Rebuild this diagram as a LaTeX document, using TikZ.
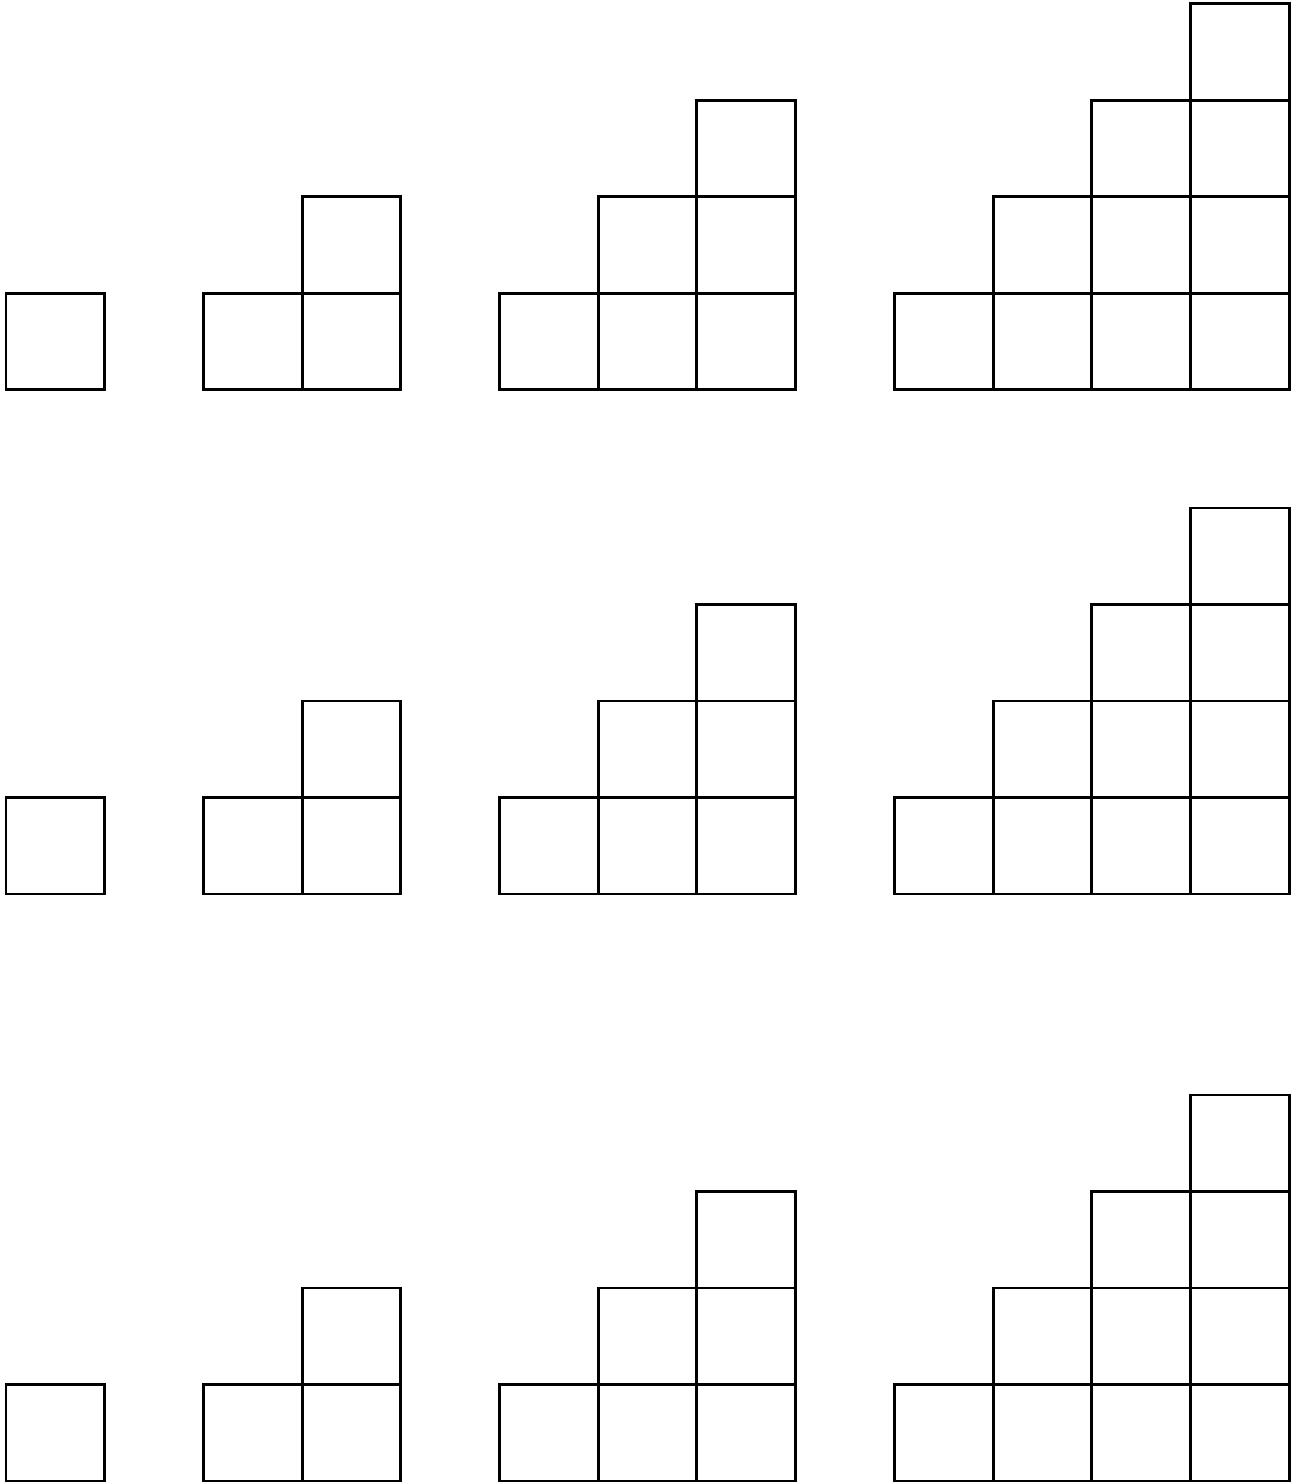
\documentclass[tikz,border=0pt]{standalone}
\usetikzlibrary{positioning}
\begin{document}
\begin{tikzpicture}[
			x=0.987cm,
			y=0.965cm,
			cell/.style={
				draw=black,
				line width=0.85pt,
				fill=white,
			},
			]
			\useasboundingbox (0cm,0cm) rectangle (12.95cm,14.83cm);
			
			% three rows of staircases, 1 to 4 columns each
			\foreach \rowy in {10.93,5.89,0.02} {
				\begin{scope}[shift={(0.06cm,\rowy cm)}]
					\foreach \n in {1,...,4} {
						\foreach \j in {1,...,\n} {
							\foreach \k in {1,...,\j} {
								\pgfmathsetmacro\colx{(\n-1)*(\n+2)/2+\j-1}
								\draw[cell] (\colx,\k-1) rectangle ++(1,1);
							}
						}
					}
				\end{scope}
			}
		\end{tikzpicture}
\end{document}
